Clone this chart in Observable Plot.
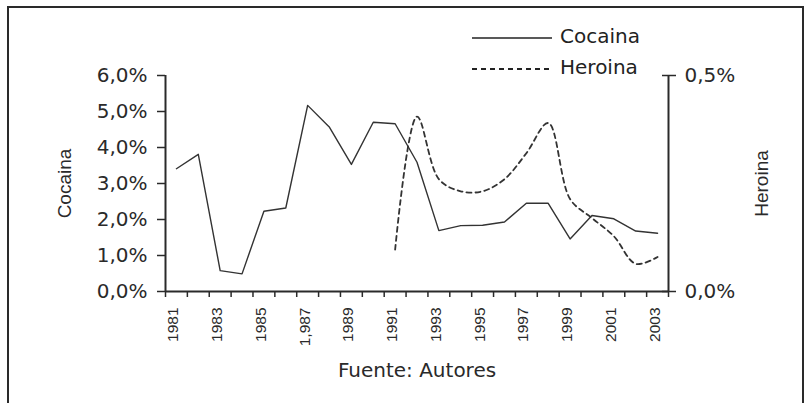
<!DOCTYPE html>
<html><head><meta charset="utf-8">
<script src="https://cdn.jsdelivr.net/npm/d3@7"></script>
<script src="https://cdn.jsdelivr.net/npm/@observablehq/plot@0.6"></script>
<style>
body{margin:0;background:#fff;}
#wrap{position:relative;width:807px;height:403px;overflow:hidden;background:#fff;}
#frame{position:absolute;left:7px;top:6px;width:797px;height:430px;border:2px solid #2a2a2a;box-sizing:border-box;pointer-events:none;}
#chart{position:absolute;left:0;top:0;}
.lg{position:absolute;font-family:"DejaVu Sans";font-size:20px;line-height:20px;color:#222;white-space:nowrap;}
.lgline{position:absolute;}
</style>
</head><body>
<div id="wrap">
  <div id="chart"></div>
  <div id="frame"></div>
</div>
<script>
// ---- data ----
const years = [1981,1982,1983,1984,1985,1986,1987,1988,1989,1990,1991,1992,1993,1994,1995,1996,1997,1998,1999,2000,2001,2002,2003];
const cocaina = [3.41,3.81,0.58,0.49,2.23,2.32,5.17,4.56,3.53,4.70,4.66,3.59,1.69,1.83,1.84,1.93,2.45,2.45,1.46,2.11,2.02,1.68,1.62];
const heroina = [null,null,null,null,null,null,null,null,null,null,0.097,0.405,0.26,0.232,0.232,0.26,0.32,0.39,0.214,0.17,0.128,0.064,0.08];
const labelYears = [1981,1983,1985,1987,1989,1991,1993,1995,1997,1999,2001,2003];
const labelTexts = ["1981","1983","1985","1,987","1989","1991","1993","1995","1997","1999","2001","2003"];
const leftTicks = [0,1,2,3,4,5,6];
const rightTicks = [0,0.5];
const seriesNames = ["Cocaina","Heroina"];
const caption = "Fuente: Autores";
const leftMax = 6, rightMax = 0.5;
const k = leftMax / rightMax;

const data = years.map((year,i)=>({year, cocaina: cocaina[i], heroina: heroina[i]}));
const fmt = d => d.toFixed(1).replace(".", ",") + "%";
const bounds = d3.range(years[0]-0.5, years[years.length-1]+1, 1);
const ink = "#2a2a2a";
const wide = "DejaVu Sans", narrow = "Liberation Sans";

const chart = Plot.plot({
  width: 807, height: 403,
  marginLeft: 165, marginRight: 139, marginTop: 75, marginBottom: 112,
  x: {domain: [years[0]-0.5, years[years.length-1]+0.5]},
  y: {domain: [0, leftMax]},
  style: {fontFamily: wide, fontSize: "20px", color: ink, background: "transparent", overflow: "visible"},
  marks: [
    // left axis: ticks + labels
    Plot.axisY({ticks: leftTicks, tickSize: 8, tickPadding: 10, tickFormat: fmt, label: null, fontFamily: wide, fontSize: 20, stroke: ink, strokeWidth: 1.5}),
    // left axis title
    Plot.axisY({ticks: [], label: seriesNames[0], labelAnchor: "center", labelArrow: "none", labelOffset: 108, fontFamily: narrow, fontSize: 19}),
    // right axis: ticks + labels (outside part)
    Plot.axisY({anchor: "right", ticks: rightTicks.map(v=>v*k), tickSize: 7, tickPadding: 9, tickFormat: d => fmt(d/k), label: null, fontFamily: wide, fontSize: 20, stroke: ink, strokeWidth: 1.5}),
    // right axis ticks (inside part, crossing)
    Plot.axisY({anchor: "right", ticks: rightTicks.map(v=>v*k), tickSize: 7, dx: -7, tickFormat: () => "", label: null, stroke: ink, strokeWidth: 1.5}),
    // right axis title
    Plot.axisY({anchor: "right", ticks: [], label: seriesNames[1], labelAnchor: "center", labelArrow: "none", labelOffset: 99, fontFamily: narrow, fontSize: 19}),
    // x ticks at category boundaries
    Plot.axisX({ticks: bounds, tickSize: 6, tickFormat: () => "", label: null, stroke: ink, strokeWidth: 1.5}),
    // x tick labels (every other year)
    Plot.axisX({ticks: labelYears, tickSize: 0, tickPadding: 16, tickRotate: -90, dx: -3, tickFormat: d => labelTexts[labelYears.indexOf(d)], label: null, fontFamily: narrow, fontSize: 15.5}),
    // caption under the axis
    Plot.axisX({ticks: [], label: caption, labelAnchor: "center", labelArrow: "none", labelOffset: 85, fontFamily: wide, fontSize: 20}),
    Plot.ruleX([years[0]-0.5, years[years.length-1]+0.5], {stroke: ink, strokeWidth: 2}),
    Plot.ruleY([0], {stroke: ink, strokeWidth: 2}),
    Plot.line(data, {x: "year", y: "cocaina", stroke: "#333", strokeWidth: 1.4}),
    Plot.line(data.filter(d => d.heroina != null), {x: "year", y: d => d.heroina * k, stroke: "#333", strokeWidth: 1.8, strokeDasharray: "5,4", curve: "catmull-rom"})
  ]
});
document.getElementById("chart").appendChild(chart);

// legend (HTML, outside the plot)
const wrap = document.getElementById("wrap");
const rows = [{name: seriesNames[0], dash: null, lineTop: 38, textTop: 26}, {name: seriesNames[1], dash: "5,4", lineTop: 69, textTop: 57}];
for (const r of rows) {
  const ns = "http://www.w3.org/2000/svg";
  const s = document.createElementNS(ns, "svg");
  s.setAttribute("width", 82); s.setAttribute("height", 4);
  s.setAttribute("class", "lgline");
  s.style.left = "472px"; s.style.top = (r.lineTop - 2) + "px";
  const l = document.createElementNS(ns, "line");
  l.setAttribute("x1", 0); l.setAttribute("x2", 80); l.setAttribute("y1", 2); l.setAttribute("y2", 2);
  l.setAttribute("stroke", "#222"); l.setAttribute("stroke-width", r.dash ? 2.2 : 1.4);
  if (r.dash) l.setAttribute("stroke-dasharray", r.dash);
  s.appendChild(l);
  wrap.appendChild(s);
  const t = document.createElement("div");
  t.className = "lg"; t.textContent = r.name;
  t.style.left = "560px"; t.style.top = r.textTop + "px";
  wrap.appendChild(t);
}
</script>
</body></html>
